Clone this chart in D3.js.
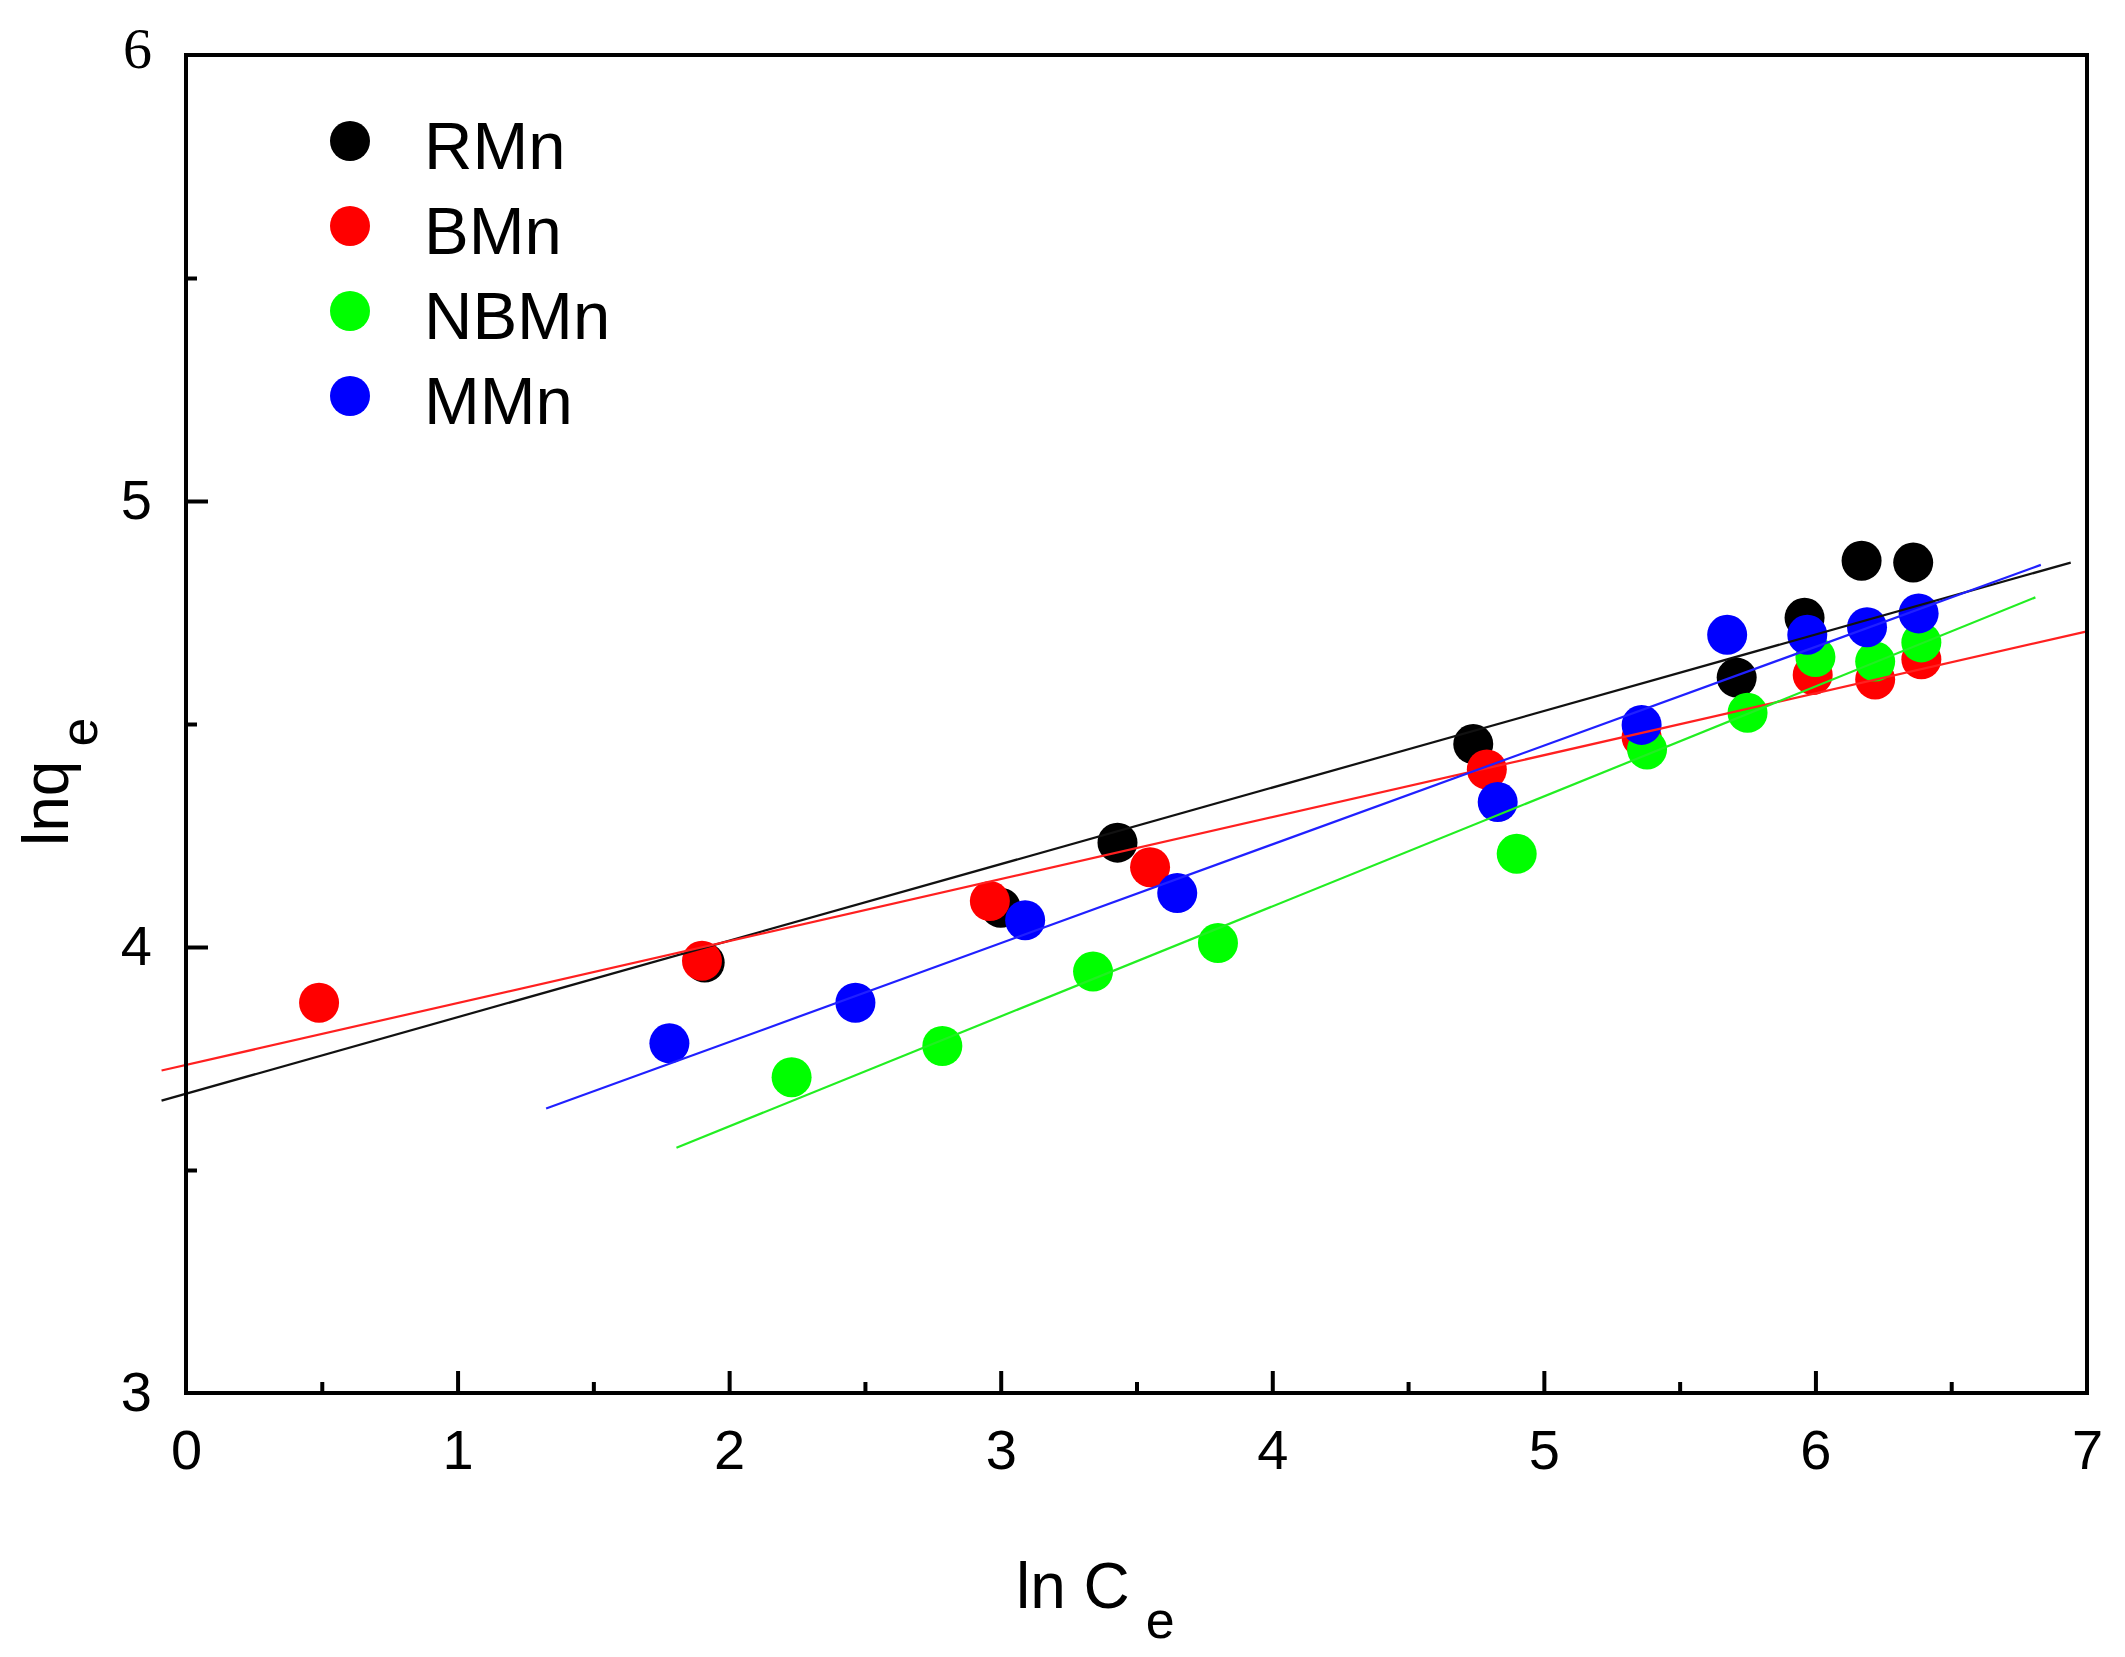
<!DOCTYPE html>
<html>
<head>
<meta charset="utf-8">
<script src="https://cdn.jsdelivr.net/npm/d3@7"></script>
<style>
  html, body { margin: 0; padding: 0; background: #ffffff; }
  svg { display: block; }
</style>
</head>
<body>
<svg id="chart" width="2125" height="1657"></svg>
<script>
// ---------------- data ----------------
const seriesNames = ["RMn", "BMn", "NBMn", "MMn"];

const rmnX = [1.91, 3.00, 3.43, 4.74, 5.71, 5.96, 6.17, 6.36];
const rmnY = [3.965, 4.088, 4.234, 4.455, 4.604, 4.738, 4.866, 4.862];

const bmnX = [0.49, 1.90, 2.96, 3.55, 4.79, 5.36, 5.99, 6.22, 6.39];
const bmnY = [3.875, 3.969, 4.103, 4.179, 4.398, 4.47, 4.61, 4.60, 4.645];

const nbmnX = [2.23, 2.785, 3.34, 3.80, 4.90, 5.38, 5.75, 6.00, 6.22, 6.39];
const nbmnY = [3.708, 3.778, 3.945, 4.009, 4.209, 4.443, 4.525, 4.65, 4.64, 4.683];

const mmnX = [1.78, 2.465, 3.09, 3.65, 4.83, 5.36, 5.675, 5.97, 6.19, 6.38];
const mmnY = [3.784, 3.875, 4.06, 4.121, 4.325, 4.498, 4.70, 4.70, 4.717, 4.748];

// linear fits: y = intercept + slope * x, drawn over [start, end]
const fitSlope     = [0.1716, 0.1389, 0.2466, 0.2215];
const fitIntercept = [3.671, 3.7355, 3.1046, 3.344];
const fitStart     = [-0.09, -0.09, 1.806, 1.326];
const fitEnd       = [6.94, 7.0, 6.81, 6.83];

const xTicks = [0, 1, 2, 3, 4, 5, 6, 7];
const xMinorTicks = [0.5, 1.5, 2.5, 3.5, 4.5, 5.5, 6.5];
const yTicks = [3, 4, 5, 6];
const yMinorTicks = [3.5, 4.5, 5.5];

// ---------------- styles ----------------
const pointColors = ["#000000", "#ff0000", "#00ff00", "#0000ff"];
const lineColors  = ["#111111", "#ff2020", "#22ee22", "#2020ff"];
const SANS = "'Liberation Sans', Arial, sans-serif";
const SERIF = "'Liberation Serif', 'Times New Roman', serif";

const seriesX = [rmnX, bmnX, nbmnX, mmnX];
const seriesY = [rmnY, bmnY, nbmnY, mmnY];

// ---------------- layout ----------------
const plotLeft = 186, plotRight = 2087, plotTop = 55, plotBottom = 1393;

const x = d3.scaleLinear().domain([0, 7]).range([plotLeft, plotRight]);
const y = d3.scaleLinear().domain([3, 6]).range([plotBottom, plotTop]);

const svg = d3.select("#chart");
svg.append("rect").attr("width", 2125).attr("height", 1657).attr("fill", "#ffffff");

// points
const pts = svg.append("g");
seriesNames.forEach((name, i) => {
  const data = seriesX[i].map((v, k) => [v, seriesY[i][k]]);
  pts.append("g").selectAll("circle").data(data).join("circle")
    .attr("cx", d => x(d[0]))
    .attr("cy", d => y(d[1]))
    .attr("r", 20)
    .attr("fill", pointColors[i]);
});

// fit lines
const lineGen = d3.line().x(d => x(d[0])).y(d => y(d[1]));
seriesNames.forEach((name, i) => {
  const ends = [fitStart[i], fitEnd[i]].map(v => [v, fitIntercept[i] + fitSlope[i] * v]);
  svg.append("path")
    .attr("d", lineGen(ends))
    .attr("fill", "none")
    .attr("stroke", lineColors[i])
    .attr("stroke-width", 2.2);
});

// axes (ticks inward)
const fmt = d3.format("d");
const xAxis = d3.axisBottom(x).tickValues(xTicks).tickFormat(fmt).tickSizeInner(-22).tickSizeOuter(0).tickPadding(36);
const gx = svg.append("g").attr("transform", `translate(0,${plotBottom})`).call(xAxis);
gx.select(".domain").remove();
gx.selectAll(".tick line").attr("stroke", "#000").attr("stroke-width", 4);
gx.selectAll(".tick text").attr("font-family", SANS).attr("font-size", 56).attr("fill", "#000");
gx.selectAll(".tick").filter(d => d === 0 || d === 7).select("line").remove();

const xMinor = d3.axisBottom(x).tickValues(xMinorTicks).tickSizeInner(-11).tickSizeOuter(0).tickFormat("");
const gxm = svg.append("g").attr("transform", `translate(0,${plotBottom})`).call(xMinor);
gxm.select(".domain").remove();
gxm.selectAll(".tick line").attr("stroke", "#000").attr("stroke-width", 4);

const yAxis = d3.axisLeft(y).tickValues(yTicks).tickFormat(fmt).tickSizeInner(-22).tickSizeOuter(0).tickPadding(34);
const gy = svg.append("g").attr("transform", `translate(${plotLeft},0)`).call(yAxis);
gy.select(".domain").remove();
gy.selectAll(".tick line").attr("stroke", "#000").attr("stroke-width", 4);
gy.selectAll(".tick").filter(d => d === 3 || d === 6).select("line").remove();
gy.selectAll(".tick text").attr("font-family", SANS).attr("font-size", 56).attr("fill", "#000");
gy.selectAll(".tick").filter(d => d === 6).select("text")
  .attr("font-family", SERIF).attr("font-size", 58).attr("dy", "0.22em");

const yMinor = d3.axisLeft(y).tickValues(yMinorTicks).tickSizeInner(-11).tickSizeOuter(0).tickFormat("");
const gym = svg.append("g").attr("transform", `translate(${plotLeft},0)`).call(yMinor);
gym.select(".domain").remove();
gym.selectAll(".tick line").attr("stroke", "#000").attr("stroke-width", 4);

// frame
svg.append("rect")
  .attr("x", plotLeft).attr("y", plotTop)
  .attr("width", plotRight - plotLeft).attr("height", plotBottom - plotTop)
  .attr("fill", "none").attr("stroke", "#000").attr("stroke-width", 4);

// axis titles
const xt = svg.append("text")
  .attr("x", 1016).attr("y", 1608)
  .attr("font-family", SANS).attr("font-size", 64).attr("fill", "#000");
xt.append("tspan").text("ln C");
xt.append("tspan").attr("dx", 16).attr("dy", 30).attr("font-size", 52).text("e");

const yt = svg.append("text")
  .attr("transform", "translate(68,846) rotate(-90)")
  .attr("font-family", SANS).attr("font-size", 64).attr("fill", "#000");
yt.append("tspan").text("lnq");
yt.append("tspan").attr("dx", 14).attr("dy", 29).attr("font-size", 52).text("e");

// legend
const legend = svg.append("g");
seriesNames.forEach((name, i) => {
  const cy = 141 + i * 85;
  legend.append("circle").attr("cx", 350).attr("cy", cy).attr("r", 20).attr("fill", pointColors[i]);
  legend.append("text")
    .attr("x", 424).attr("y", cy + 28)
    .attr("font-family", SANS).attr("font-size", 67).attr("fill", "#000")
    .text(name);
});
</script>
</body>
</html>
